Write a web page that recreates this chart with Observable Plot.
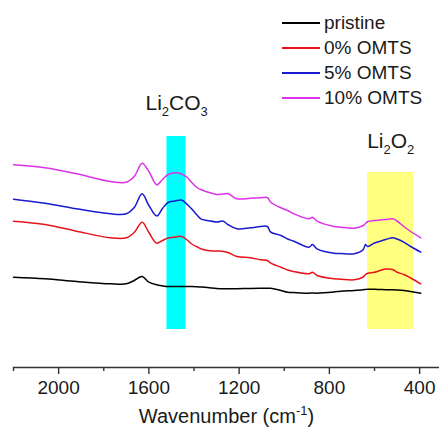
<!DOCTYPE html>
<html>
<head>
<meta charset="utf-8">
<script src="https://cdn.jsdelivr.net/npm/d3@7"></script>
<script src="https://cdn.jsdelivr.net/npm/@observablehq/plot@0.6"></script>
<style>
  html, body { margin: 0; padding: 0; background: white; }
  #wrap { position: relative; width: 439px; height: 432px; font-family: "Liberation Sans", Arial, sans-serif; }
  #legend { position: absolute; left: 282px; top: 10px; }
  .row { display: flex; align-items: center; height: 25px; }
  .swatch { width: 38px; height: 2px; margin-right: 4px; }
  .lab { font-size: 19px; color: #1a1a1a; line-height: 25px; }
</style>
</head>
<body>
<div id="wrap"></div>
<script>
// Wavenumber grid (cm^-1)
const wavenumber = [2200, 2060, 1920, 1770, 1700, 1665, 1630, 1600, 1565, 1540, 1515, 1485, 1455, 1430, 1410, 1385, 1370, 1340, 1300, 1270, 1250, 1210, 1150, 1105, 1075, 1060, 1015, 985, 960, 890, 875, 855, 780, 750, 690, 650, 640, 630, 600, 575, 550, 520, 500, 470, 440, 395];

// Absorbance (a.u., offset stacked)
const pristine = [0.903, 0.887, 0.860, 0.837, 0.837, 0.870, 0.910, 0.853, 0.827, 0.817, 0.810, 0.810, 0.810, 0.810, 0.810, 0.807, 0.805, 0.800, 0.790, 0.787, 0.787, 0.788, 0.790, 0.792, 0.793, 0.793, 0.770, 0.753, 0.750, 0.743, 0.745, 0.743, 0.755, 0.763, 0.770, 0.778, 0.780, 0.783, 0.782, 0.780, 0.778, 0.777, 0.775, 0.770, 0.760, 0.743];
const omts0 = [1.463, 1.430, 1.363, 1.297, 1.297, 1.350, 1.453, 1.350, 1.243, 1.270, 1.295, 1.305, 1.310, 1.275, 1.235, 1.205, 1.187, 1.170, 1.165, 1.160, 1.150, 1.110, 1.097, 1.077, 1.070, 1.043, 1.003, 0.975, 0.960, 0.937, 0.953, 0.920, 0.887, 0.883, 0.877, 0.905, 0.930, 0.943, 0.953, 0.970, 0.985, 0.980, 0.953, 0.930, 0.895, 0.837];
const omts5 = [1.683, 1.643, 1.587, 1.537, 1.537, 1.600, 1.737, 1.620, 1.515, 1.590, 1.650, 1.665, 1.675, 1.630, 1.585, 1.520, 1.487, 1.470, 1.455, 1.463, 1.430, 1.387, 1.397, 1.410, 1.410, 1.353, 1.320, 1.285, 1.265, 1.203, 1.230, 1.187, 1.143, 1.140, 1.137, 1.180, 1.230, 1.210, 1.245, 1.263, 1.280, 1.297, 1.285, 1.253, 1.210, 1.153];
const omts10 = [2.027, 1.997, 1.937, 1.860, 1.853, 1.910, 2.043, 1.960, 1.827, 1.880, 1.930, 1.947, 1.935, 1.900, 1.850, 1.795, 1.780, 1.755, 1.730, 1.735, 1.740, 1.687, 1.693, 1.697, 1.700, 1.653, 1.597, 1.570, 1.540, 1.487, 1.503, 1.463, 1.410, 1.403, 1.393, 1.420, 1.440, 1.460, 1.470, 1.475, 1.480, 1.487, 1.465, 1.410, 1.360, 1.297];

const seriesNames = ["pristine", "0% OMTS", "5% OMTS", "10% OMTS"];
const seriesColors = ["#000000", "#e8141b", "#1a1ad0", "#dc32e8"];
const seriesValues = [pristine, omts0, omts5, omts10];

// Highlight bands
const bandNames = ["Li2CO3", "Li2O2"];
const bandFrom = [1520, 630];
const bandTo = [1435, 427];
const bandBottom = [0.38, 0.38];
const bandTop = [2.31, 1.95];
const bandColors = ["#00ffff", "#ffff80"];
const bandLabelX = [1477, 528];
const bandLabelY = [2.64, 2.26];

const majorTicks = [2000, 1600, 1200, 800, 400];
const minorTicks = [2200, 1800, 1400, 1000, 600];
const xLabel = "Wavenumber (cm-1)";

const rows = [];
seriesNames.forEach((name, i) => {
  wavenumber.forEach((w, j) => rows.push({wn: w, a: seriesValues[i][j], series: name}));
});
const bands = bandNames.map((n, i) => ({name: n, x1: bandFrom[i], x2: bandTo[i], y1: bandBottom[i], y2: bandTop[i], fill: bandColors[i], lx: bandLabelX[i], ly: bandLabelY[i]}));

const chart = Plot.plot({
  width: 439,
  height: 432,
  marginLeft: 13,
  marginRight: 0,
  marginTop: 0,
  marginBottom: 65,
  style: {fontFamily: "'Liberation Sans', Arial, sans-serif", background: "white", color: "#1a1a1a"},
  x: {domain: [2200, 312], label: null},
  y: {domain: [0, 3.67], axis: null},
  color: {domain: seriesNames, range: seriesColors},
  marks: [
    Plot.rect(bands, {x1: "x1", x2: "x2", y1: "y1", y2: "y2", fill: d => d.fill}),
    Plot.line(rows, {x: "wn", y: "a", z: "series", stroke: "series", strokeWidth: 1.5, curve: "catmull-rom"}),
    Plot.text(bands, {x: "lx", y: "ly", text: "name", fontSize: 21, fill: "#1a1a1a"}),
    Plot.ruleY([0], {stroke: "#333", strokeWidth: 1.4}),
    Plot.axisX({ticks: majorTicks, tickSize: 7, tickPadding: 6, fontSize: 19, tickFormat: d => String(d), label: null, stroke: "#333", strokeWidth: 1.4, fill: "#1a1a1a"}),
    Plot.axisX({ticks: minorTicks, tickSize: 4, tickFormat: () => "", label: null, stroke: "#333", strokeWidth: 1.4}),
    Plot.text([xLabel], {text: d => d, frameAnchor: "bottom", lineAnchor: "middle", dy: 49, fontSize: 20, fill: "#1a1a1a"})
  ]
});

const NS = "http://www.w3.org/2000/svg";
function rich(t, parts) {
  t.textContent = "";
  parts.forEach(p => {
    const ts = document.createElementNS(NS, "tspan");
    ts.textContent = p[0];
    if (p[1]) ts.setAttribute("font-size", p[1]);
    if (p[2]) ts.setAttribute("dy", p[2]);
    t.appendChild(ts);
  });
}
chart.querySelectorAll("text").forEach(t => {
  const s = t.textContent;
  if (s === "Li2CO3") rich(t, [["Li"], ["2", 13, 6], ["CO", 21, -6], ["3", 13, 6]]);
  else if (s === "Li2O2") rich(t, [["Li"], ["2", 13, 6], ["O", 21, -6], ["2", 13, 6]]);
  else if (s === xLabel) rich(t, [["Wavenumber (cm"], ["-1", 13, -8], [")", 20, 8]]);
});

const wrap = document.getElementById("wrap");
wrap.appendChild(chart);
const legend = document.createElement("div");
legend.id = "legend";
seriesNames.forEach((n, i) => {
  const row = document.createElement("div");
  row.className = "row";
  const sw = document.createElement("span");
  sw.className = "swatch";
  sw.style.background = seriesColors[i];
  const lab = document.createElement("span");
  lab.className = "lab";
  lab.textContent = n;
  row.appendChild(sw);
  row.appendChild(lab);
  legend.appendChild(row);
});
wrap.appendChild(legend);
</script>
</body>
</html>
